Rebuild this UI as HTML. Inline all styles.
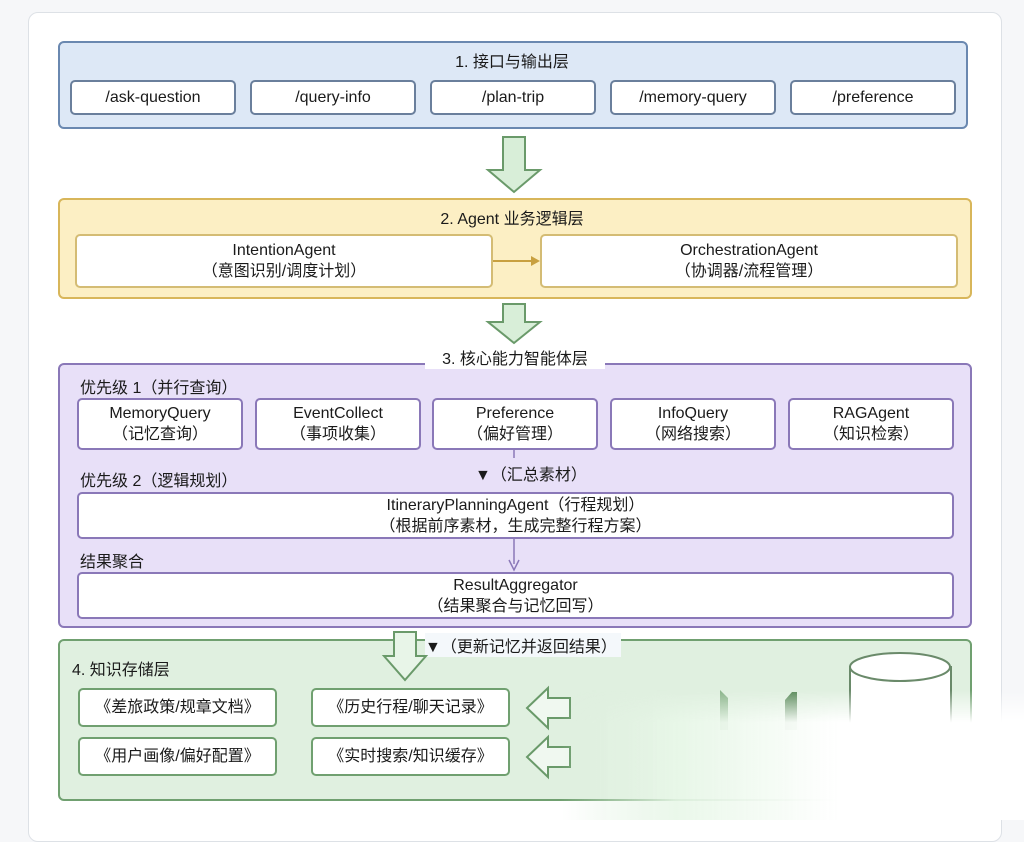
<!DOCTYPE html>
<html><head><meta charset="utf-8"><style>
*{box-sizing:border-box;margin:0;padding:0}
body{width:1024px;height:820px;background:#f6f7f9;position:relative;overflow:hidden;font-family:"Liberation Sans","Noto Sans CJK SC",sans-serif;color:#1a1a1a}
.a{position:absolute}
.card{left:28px;top:12px;width:974px;height:830px;background:#fff;border:1px solid #dde1e6;border-radius:10px}
.layer{position:absolute;border-radius:6px;border:2px solid}
.box{position:absolute;background:#fff;border:2px solid;border-radius:5px;display:flex;flex-direction:column;align-items:center;justify-content:center;font-size:16px;line-height:21px;text-align:center}
.t{position:absolute;font-size:16px;white-space:nowrap}
</style></head><body>
<div class="a card"></div>

<div class="layer" style="left:58px;top:41px;width:910px;height:88px;background:#dde8f6;border-color:#6a88b0"></div>
<div class="t" style="left:0;width:1024px;text-align:center;top:48px">1. 接口与输出层</div>
<div class="box" style="left:70px;top:80px;width:166px;height:35px;border-color:#6a7f9c">/ask-question</div>
<div class="box" style="left:250px;top:80px;width:166px;height:35px;border-color:#6a7f9c">/query-info</div>
<div class="box" style="left:430px;top:80px;width:166px;height:35px;border-color:#6a7f9c">/plan-trip</div>
<div class="box" style="left:610px;top:80px;width:166px;height:35px;border-color:#6a7f9c">/memory-query</div>
<div class="box" style="left:790px;top:80px;width:166px;height:35px;border-color:#6a7f9c">/preference</div>

<div class="layer" style="left:58px;top:198px;width:914px;height:101px;background:#fcefc4;border-color:#d8b65a"></div>
<div class="t" style="left:0;width:1024px;text-align:center;top:205px">2. Agent 业务逻辑层</div>
<div class="box" style="left:75px;top:234px;width:418px;height:54px;border-color:#d4bc74">IntentionAgent<span>（意图识别/调度计划）</span></div>
<div class="box" style="left:540px;top:234px;width:418px;height:54px;border-color:#d4bc74">OrchestrationAgent<span>（协调器/流程管理）</span></div>

<div class="layer" style="left:58px;top:363px;width:914px;height:265px;background:#e8e0f8;border-color:#8a78b8"></div>
<div class="t" style="left:425px;width:180px;text-align:center;top:345px;background:#fff">3. 核心能力智能体层</div>
<div class="t" style="left:80px;top:374px">优先级 1（并行查询）</div>
<div class="box" style="left:77px;top:398px;width:166px;height:52px;border-color:#8a78b8">MemoryQuery<span>（记忆查询）</span></div>
<div class="box" style="left:255px;top:398px;width:166px;height:52px;border-color:#8a78b8">EventCollect<span>（事项收集）</span></div>
<div class="box" style="left:432px;top:398px;width:166px;height:52px;border-color:#8a78b8">Preference<span>（偏好管理）</span></div>
<div class="box" style="left:610px;top:398px;width:166px;height:52px;border-color:#8a78b8">InfoQuery<span>（网络搜索）</span></div>
<div class="box" style="left:788px;top:398px;width:166px;height:52px;border-color:#8a78b8">RAGAgent<span>（知识检索）</span></div>
<div class="t" style="left:475px;top:461px">▼（汇总素材）</div>
<div class="t" style="left:80px;top:467px">优先级 2（逻辑规划）</div>
<div class="box" style="left:77px;top:492px;width:877px;height:47px;border-color:#8a78b8">ItineraryPlanningAgent（行程规划）<span>（根据前序素材，生成完整行程方案）</span></div>
<div class="t" style="left:80px;top:548px">结果聚合</div>
<div class="box" style="left:77px;top:572px;width:877px;height:47px;border-color:#8a78b8">ResultAggregator<span>（结果聚合与记忆回写）</span></div>

<div class="layer" style="left:58px;top:639px;width:914px;height:162px;background:#e0f0e0;border-color:#70a070"></div>
<div class="t" style="left:425px;top:633px;background:#f4f8fb;padding-right:4px">▼（更新记忆并返回结果）</div>
<div class="t" style="left:72px;top:656px">4. 知识存储层</div>
<div class="box" style="left:78px;top:688px;width:199px;height:39px;border-color:#70a070">《差旅政策/规章文档》</div>
<div class="box" style="left:311px;top:688px;width:199px;height:39px;border-color:#70a070">《历史行程/聊天记录》</div>
<div class="box" style="left:78px;top:737px;width:199px;height:39px;border-color:#70a070">《用户画像/偏好配置》</div>
<div class="box" style="left:311px;top:737px;width:199px;height:39px;border-color:#70a070">《实时搜索/知识缓存》</div>

<svg class="a" style="left:0;top:0" width="1024" height="820">
<defs>
<linearGradient id="g" x1="0" y1="0" x2="1" y2="0"><stop offset="0" stop-color="#e0f0e0" stop-opacity="0"/><stop offset="0.25" stop-color="#e8f7e8" stop-opacity="0.9"/><stop offset="0.6" stop-color="#ffffff"/><stop offset="1" stop-color="#ffffff"/></linearGradient>
<linearGradient id="v" x1="0" y1="0" x2="0" y2="1"><stop offset="0" stop-color="#fff" stop-opacity="0"/><stop offset="0.25" stop-color="#fff" stop-opacity="1"/></linearGradient>
<mask id="m"><rect x="560" y="690" width="464" height="130" fill="url(#v)"/></mask>
</defs>
<polygon points="503,137 525,137 525,170 540,170 514,192 488,170 503,170" fill="#d8eed8" stroke="#6a9a6a" stroke-width="2"/>
<polygon points="503,304 525,304 525,322 540,322 514,343 488,322 503,322" fill="#d8eed8" stroke="#6a9a6a" stroke-width="2"/>
<line x1="493" y1="261" x2="533" y2="261" stroke="#c8a040" stroke-width="2"/>
<polygon points="540,261 531,256 531,266" fill="#c8a040"/>
<line x1="514" y1="450" x2="514" y2="458" stroke="#8a78b8" stroke-width="1.5"/>
<line x1="514" y1="539" x2="514" y2="564" stroke="#8a78b8" stroke-width="1.5"/>
<polyline points="509,560 514,570 519,560" fill="none" stroke="#8a78b8" stroke-width="1.5"/>
<polygon points="394,632 416,632 416,656 426,656 405,680 384,656 394,656" fill="#e8f5e8" stroke="#6a9a6a" stroke-width="2"/>
<polygon points="570,698 548,698 548,688 527,708 548,728 548,718 570,718" fill="#f0f8f0" stroke="#6a9a6a" stroke-width="2"/>
<polygon points="570,747 548,747 548,737 527,757 548,777 548,767 570,767" fill="#f0f8f0" stroke="#6a9a6a" stroke-width="2"/>
<rect x="850" y="667" width="101" height="140" fill="#fff" stroke="#6a8a6a" stroke-width="2"/>
<ellipse cx="900" cy="667" rx="50" ry="14" fill="#fff" stroke="#6a8a6a" stroke-width="2"/>
<polygon points="720,690 728,698 728,730 720,730" fill="#8ab48a"/>
<polygon points="785,700 792,692 797,692 797,730 785,730" fill="#5a8a5a"/>
<rect x="560" y="690" width="464" height="130" fill="url(#g)" mask="url(#m)"/>
</svg>
</body></html>
